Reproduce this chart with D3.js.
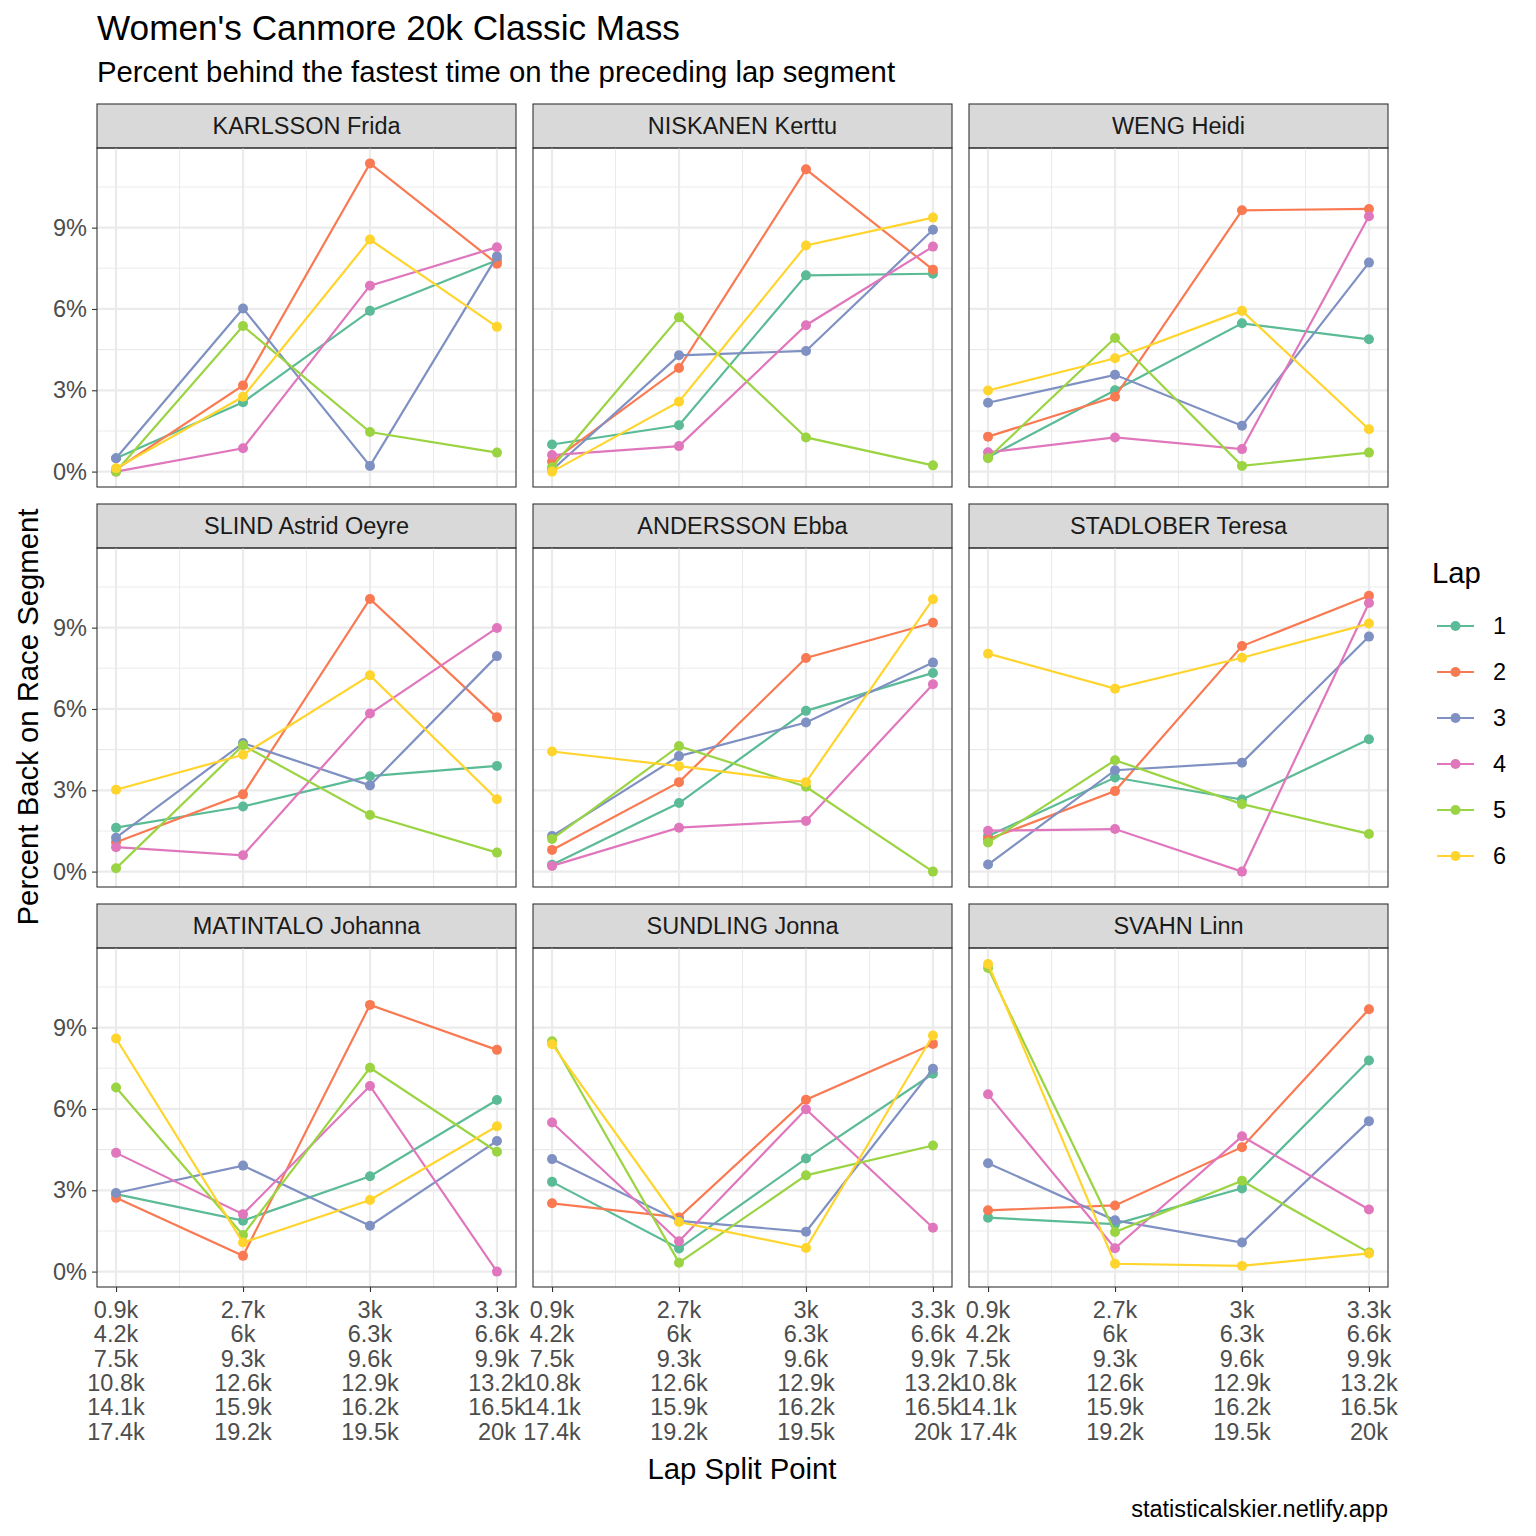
<!DOCTYPE html>
<html>
<head>
<meta charset="utf-8">
<script src="https://cdn.jsdelivr.net/npm/d3@7"></script>
<style>
  body { margin: 0; background: #fff; }
  text { font-family: "Liberation Sans", Arial, Helvetica, sans-serif; }
</style>
</head>
<body>
<div id="chart"></div>
<script>
// lap split tick labels, one row of text per lap
var splitLabels = [
    ['0.9k', '4.2k', '7.5k', '10.8k', '14.1k', '17.4k'],
    ['2.7k', '6k', '9.3k', '12.6k', '15.9k', '19.2k'],
    ['3k', '6.3k', '9.6k', '12.9k', '16.2k', '19.5k'],
    ['3.3k', '6.6k', '9.9k', '13.2k', '16.5k', '20k']
];
var laps = ['1', '2', '3', '4', '5', '6'];
var lapColors = ['#5bbb96', '#f97a52', '#7f90c2', '#e077bd', '#9bd442', '#ffd42d'];
var athletes = ['KARLSSON Frida', 'NISKANEN Kerttu', 'WENG Heidi',
    'SLIND Astrid Oeyre', 'ANDERSSON Ebba', 'STADLOBER Teresa',
    'MATINTALO Johanna', 'SUNDLING Jonna', 'SVAHN Linn'];

// percent back per lap (rows) at each split (columns)
var karlsson = [[0.49, 2.56, 5.93, 7.80], [0.08, 3.18, 11.37, 7.67], [0.49, 6.02, 0.21, 7.94],
    [0.00, 0.86, 6.86, 8.28], [0.00, 5.37, 1.46, 0.70], [0.12, 2.76, 8.56, 5.34]];
var niskanen = [[1.00, 1.71, 7.24, 7.30], [0.37, 3.82, 11.15, 7.45], [0.06, 4.29, 4.45, 8.92],
    [0.61, 0.94, 5.40, 8.30], [0.16, 5.69, 1.26, 0.23], [0.00, 2.58, 8.34, 9.37]];
var weng = [[0.53, 3.00, 5.47, 4.88], [1.29, 2.76, 9.64, 9.69], [2.54, 3.57, 1.69, 7.71],
    [0.71, 1.26, 0.83, 9.42], [0.49, 4.93, 0.21, 0.70], [2.99, 4.18, 5.93, 1.56]];
var slind = [[1.62, 2.40, 3.52, 3.90], [1.08, 2.85, 10.06, 5.69], [1.25, 4.74, 3.18, 7.95],
    [0.90, 0.60, 5.83, 8.99], [0.12, 4.66, 2.09, 0.70], [3.02, 4.31, 7.24, 2.67]];
var andersson = [[0.25, 2.53, 5.93, 7.33], [0.80, 3.30, 7.88, 9.18], [1.31, 4.26, 5.50, 7.71],
    [0.21, 1.62, 1.87, 6.91], [1.20, 4.63, 3.13, 0.00], [4.43, 3.89, 3.30, 10.05]];
var stadlober = [[1.31, 3.47, 2.66, 4.88], [1.19, 2.97, 8.32, 10.18], [0.26, 3.74, 4.02, 8.67],
    [1.51, 1.57, 0.00, 9.91], [1.07, 4.11, 2.49, 1.39], [8.04, 6.75, 7.89, 9.15]];
var matintalo = [[2.86, 1.88, 3.52, 6.33], [2.72, 0.58, 9.84, 8.18], [2.90, 3.91, 1.69, 4.82],
    [4.38, 2.12, 6.85, 0.00], [6.79, 1.35, 7.52, 4.42], [8.60, 1.07, 2.64, 5.36]];
var sundling = [[3.31, 0.85, 4.17, 7.30], [2.52, 2.00, 6.34, 8.40], [4.15, 1.87, 1.47, 7.48],
    [5.50, 1.12, 5.99, 1.62], [8.50, 0.33, 3.55, 4.65], [8.39, 1.83, 0.87, 8.71]];
var svahn = [[1.99, 1.75, 3.07, 7.79], [2.26, 2.44, 4.59, 9.68], [4.00, 1.89, 1.07, 5.55],
    [6.54, 0.86, 4.99, 2.29], [11.20, 1.46, 3.35, 0.70], [11.35, 0.29, 0.21, 0.67]];
var athleteData = [karlsson, niskanen, weng, slind, andersson, stadlober, matintalo, sundling, svahn];

var width = 1536, height = 1536;
var panelLeft = 97, panelW = 419, panelGap = 17;
var panelTop = 148, panelH = 339, rowStep = 400, stripH = 44;
var ncol = 3;
var fsBase = 29.3, fsSmall = 23.5, fsTitle = 35.2;

var svg = d3.select('#chart').append('svg')
    .attr('width', width)
    .attr('height', height);

//scales shared by every facet
var allValues = [].concat.apply([], athleteData.map(function(a) { return [].concat.apply([], a); }));
var yMax = d3.max(allValues), yMin = 0;
var yPad = (yMax - yMin) * 0.05;
var x = d3.scaleLinear().domain([0.85, 4.15]).range([0, panelW]);
var y = d3.scaleLinear().domain([yMin - yPad, yMax + yPad]).range([panelH, 0]);
var color = d3.scaleOrdinal().domain(laps).range(lapColors);
var yMajor = [0, 3, 6, 9], yMinor = [1.5, 4.5, 7.5, 10.5];
var xMajor = [1, 2, 3, 4], xMinor = [1.5, 2.5, 3.5];

var line = d3.line()
    .x(function(d, i) { return x(i + 1); })
    .y(function(d) { return y(d); });

athletes.forEach(function(name, k) {
    var col = k % ncol, row = Math.floor(k / ncol);
    var px = panelLeft + col * (panelW + panelGap);
    var py = panelTop + row * rowStep;
    var g = svg.append('g').attr('transform', 'translate(' + px + ',' + py + ')');

    // strip
    g.append('rect')
        .attr('x', 0).attr('y', -stripH)
        .attr('width', panelW).attr('height', stripH)
        .attr('fill', '#d9d9d9').attr('stroke', '#333').attr('stroke-width', 1.1);
    g.append('text')
        .attr('x', panelW / 2).attr('y', -stripH / 2)
        .attr('dy', '0.35em')
        .attr('text-anchor', 'middle')
        .attr('font-size', fsSmall).attr('fill', '#1a1a1a')
        .text(name);

    // grid
    g.selectAll('.ymin').data(yMinor).enter().append('line')
        .attr('x1', 0).attr('x2', panelW)
        .attr('y1', function(d) { return y(d); }).attr('y2', function(d) { return y(d); })
        .attr('stroke', '#ebebeb').attr('stroke-width', 1.1);
    g.selectAll('.xmin').data(xMinor).enter().append('line')
        .attr('y1', 0).attr('y2', panelH)
        .attr('x1', function(d) { return x(d); }).attr('x2', function(d) { return x(d); })
        .attr('stroke', '#ebebeb').attr('stroke-width', 1.1);
    g.selectAll('.ymaj').data(yMajor).enter().append('line')
        .attr('x1', 0).attr('x2', panelW)
        .attr('y1', function(d) { return y(d); }).attr('y2', function(d) { return y(d); })
        .attr('stroke', '#ebebeb').attr('stroke-width', 2.2);
    g.selectAll('.xmaj').data(xMajor).enter().append('line')
        .attr('y1', 0).attr('y2', panelH)
        .attr('x1', function(d) { return x(d); }).attr('x2', function(d) { return x(d); })
        .attr('stroke', '#ebebeb').attr('stroke-width', 2.2);

    // lines and points, one series per lap
    athleteData[k].forEach(function(vals, li) {
        g.append('path')
            .datum(vals)
            .attr('d', line)
            .attr('fill', 'none')
            .attr('stroke', color(laps[li]))
            .attr('stroke-width', 2.2);
        g.selectAll('.pt' + li).data(vals).enter().append('circle')
            .attr('cx', function(d, i) { return x(i + 1); })
            .attr('cy', function(d) { return y(d); })
            .attr('r', 5)
            .attr('fill', color(laps[li]));
    });

    g.append('rect')
        .attr('width', panelW).attr('height', panelH)
        .attr('fill', 'none').attr('stroke', '#333').attr('stroke-width', 1.1);

    // y axis only on first column
    if (col === 0) {
        var yAxis = g.append('g').call(d3.axisLeft(y).tickValues(yMajor)
            .tickSize(5).tickPadding(5).tickFormat(function(d) { return d + '%'; }));
        yAxis.select('.domain').remove();
        yAxis.selectAll('line').attr('stroke', '#333').attr('stroke-width', 1.1);
        yAxis.selectAll('text').attr('font-size', fsSmall).attr('fill', '#4d4d4d')
            .style('font-family', '"Liberation Sans", Arial, sans-serif');
    }

    // x axis only on bottom row
    if (row === 2) {
        var xAxis = g.append('g').attr('transform', 'translate(0,' + panelH + ')')
            .call(d3.axisBottom(x).tickValues(xMajor).tickSize(5).tickFormat(''));
        xAxis.select('.domain').remove();
        xAxis.selectAll('line').attr('stroke', '#333').attr('stroke-width', 1.1);
        xMajor.forEach(function(v, i) {
            var t = g.append('text')
                .attr('x', x(v)).attr('y', panelH + 31)
                .attr('text-anchor', 'middle')
                .attr('font-size', fsSmall).attr('fill', '#4d4d4d');
            splitLabels[i].forEach(function(s, j) {
                t.append('tspan').attr('x', x(v)).attr('dy', j === 0 ? 0 : 24.3).text(s);
            });
        });
    }
});

// titles
svg.append('text').attr('x', 97).attr('y', 40)
    .attr('font-size', fsTitle).attr('fill', '#000')
    .text("Women's Canmore 20k Classic Mass");
svg.append('text').attr('x', 97).attr('y', 82)
    .attr('font-size', fsBase).attr('fill', '#000')
    .text('Percent behind the fastest time on the preceding lap segment');
svg.append('text').attr('x', 742).attr('y', 1479)
    .attr('text-anchor', 'middle').attr('font-size', fsBase).attr('fill', '#000')
    .text('Lap Split Point');
svg.append('text')
    .attr('transform', 'translate(38,717) rotate(-90)')
    .attr('text-anchor', 'middle').attr('font-size', fsBase).attr('fill', '#000')
    .text('Percent Back on Race Segment');
svg.append('text').attr('x', 1388).attr('y', 1517)
    .attr('text-anchor', 'end').attr('font-size', fsSmall).attr('fill', '#000')
    .text('statisticalskier.netlify.app');

// legend
var legend = svg.append('g').attr('transform', 'translate(1432,0)');
legend.append('text').attr('x', 0).attr('y', 583)
    .attr('font-size', fsBase).attr('fill', '#000').text('Lap');
laps.forEach(function(l, i) {
    var cy = 626 + i * 46;
    legend.append('line')
        .attr('x1', 5).attr('x2', 42).attr('y1', cy).attr('y2', cy)
        .attr('stroke', color(l)).attr('stroke-width', 2.2);
    legend.append('circle').attr('cx', 23.5).attr('cy', cy).attr('r', 5).attr('fill', color(l));
    legend.append('text').attr('x', 61).attr('y', cy).attr('dy', '0.35em')
        .attr('font-size', fsSmall).attr('fill', '#000').text(l);
});
</script>
</body>
</html>
